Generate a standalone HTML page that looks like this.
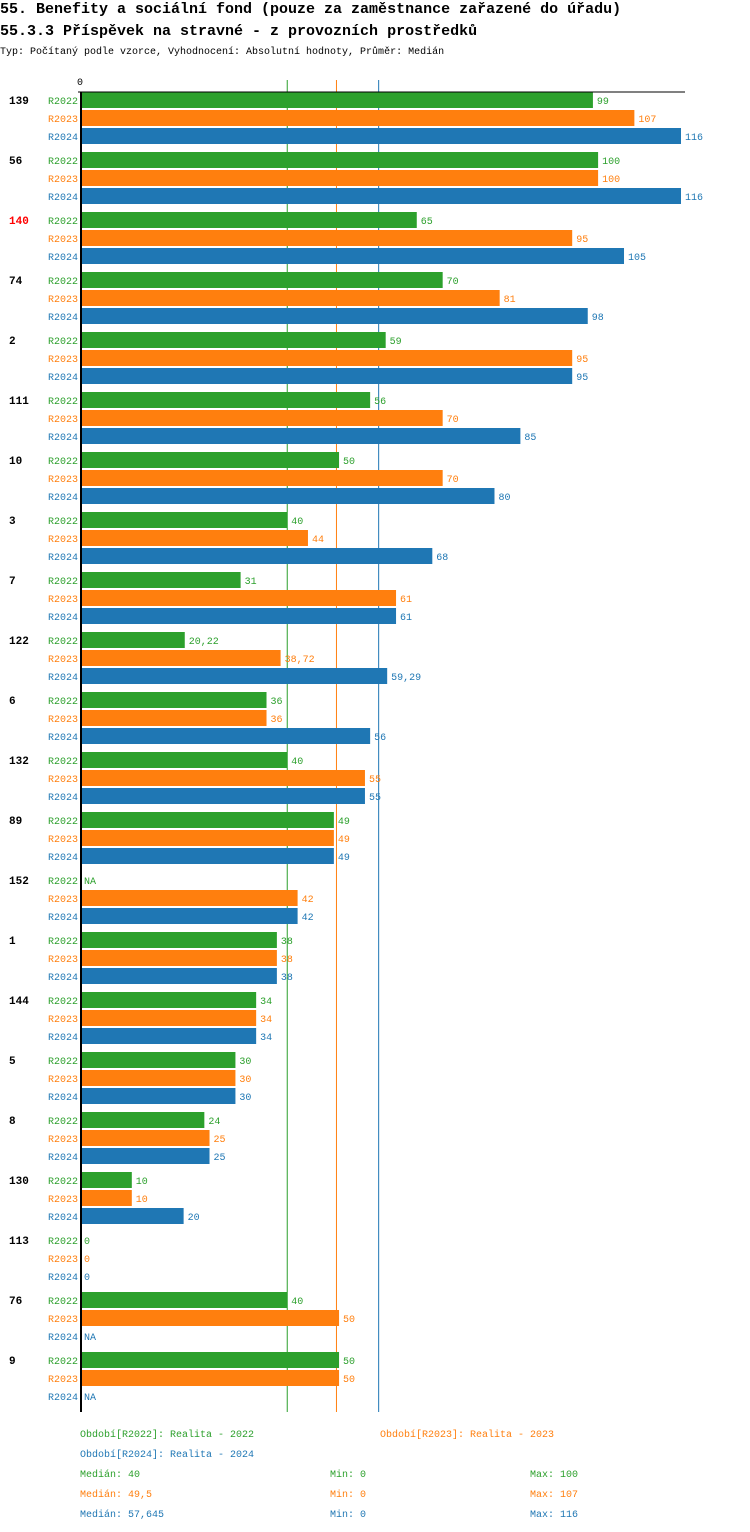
<!DOCTYPE html>
<html><head><meta charset="utf-8"><style>
body{margin:0;background:#fff;width:750px;height:1532px;overflow:hidden}
svg{display:block}
text{font-family:"Liberation Mono","DejaVu Sans Mono",monospace}
</style></head><body>
<svg id="c" width="750" height="1532" xmlns="http://www.w3.org/2000/svg">
<text x="0" y="13" font-size="15" font-weight="bold">55. Benefity a sociální fond (pouze za zaměstnance zařazené do úřadu)</text>
<text x="0" y="35" font-size="15" font-weight="bold">55.3.3 Příspěvek na stravné - z provozních prostředků</text>
<text x="0" y="54" font-size="10">Typ: Počítaný podle vzorce, Vyhodnocení: Absolutní hodnoty, Průměr: Medián</text>
<g id="g"></g>
</svg>
<script>
const categories=["139","56","140","74","2","111","10","3","7","122","6","132","89","152","1","144","5","8","130","113","76","9"];
const r2022=[99,100,65,70,59,56,50,40,31,20.22,36,40,49,null,38,34,30,24,10,0,40,50];
const r2023=[107,100,95,81,95,70,70,44,61,38.72,36,55,49,42,38,34,30,25,10,0,50,50];
const r2024=[116,116,105,98,95,85,80,68,61,59.29,56,55,49,42,38,34,30,25,20,0,null,null];
const seriesNames=["R2022","R2023","R2024"];
const colors=["#2ca02c","#ff7f0e","#1f77b4"];
const medians=[40,49.5,57.645];
const mins=[0,0,0];
const maxs=[100,107,116];
const highlight="140";
const ns="http://www.w3.org/2000/svg";
const g=document.getElementById('g');
const X0=80,XMAX=116,XW=601;
const x=v=>X0+v/XMAX*XW;
const gy=i=>92+60*i;
function el(t,a,txt){const e=document.createElementNS(ns,t);for(const k in a)e.setAttribute(k,a[k]);if(txt!=null)e.textContent=txt;g.appendChild(e);return e;}
const fmt=v=>String(v).replace('.',',');
const bottom=gy(categories.length);
const series=[r2022,r2023,r2024];
medians.forEach((m,j)=>{
  const l=el('line',{x1:x(m),x2:x(m),y1:80,y2:bottom,stroke:colors[j],'stroke-width':1});
  
  
});
categories.forEach((c,i)=>{
  const t=el('text',{x:9,y:gy(i)+12,'font-size':11,'font-weight':'bold',fill:c===highlight?'#ff0000':'#000'},c);
  
  
  series.forEach((s,j)=>{
    const y=gy(i)+18*j;
    const l=el('text',{x:78,y:y+12,'font-size':10,fill:colors[j],'text-anchor':'end'},seriesNames[j]);
    
    
    const v=s[i];
    if(v!=null&&v>0){
      const r=el('rect',{x:X0,y:y,width:x(v)-X0,height:16,fill:colors[j]});
      
      
    }
    const vt=el('text',{x:(v==null?X0:x(v))+4,y:y+12,'font-size':10,fill:colors[j]},v==null?'NA':fmt(v));
    
    
  });
});
const ax=el('line',{x1:78,x2:685,y1:92,y2:92,stroke:'#000','stroke-width':1});


const ay=el('line',{x1:81,x2:81,y1:92,y2:bottom,stroke:'#000','stroke-width':2});


const z=el('text',{x:77,y:85,'font-size':10},'0');


const leg=[[80,1437,0,'Období[R2022]: Realita - 2022'],[380,1437,1,'Období[R2023]: Realita - 2023'],[80,1457,2,'Období[R2024]: Realita - 2024']];
leg.forEach(a=>{const t=el('text',{x:a[0],y:a[1],'font-size':10,fill:colors[a[2]]},a[3]);
  
  });
medians.forEach((m,j)=>{
  const y=1477+20*j;
  const a=el('text',{x:80,y:y,'font-size':10,fill:colors[j]},'Medián: '+fmt(m));
  
  
  const b=el('text',{x:330,y:y,'font-size':10,fill:colors[j]},'Min: '+fmt(mins[j]));
  
  
  const d=el('text',{x:530,y:y,'font-size':10,fill:colors[j]},'Max: '+fmt(maxs[j]));
  
  
});
</script>
</body></html>
